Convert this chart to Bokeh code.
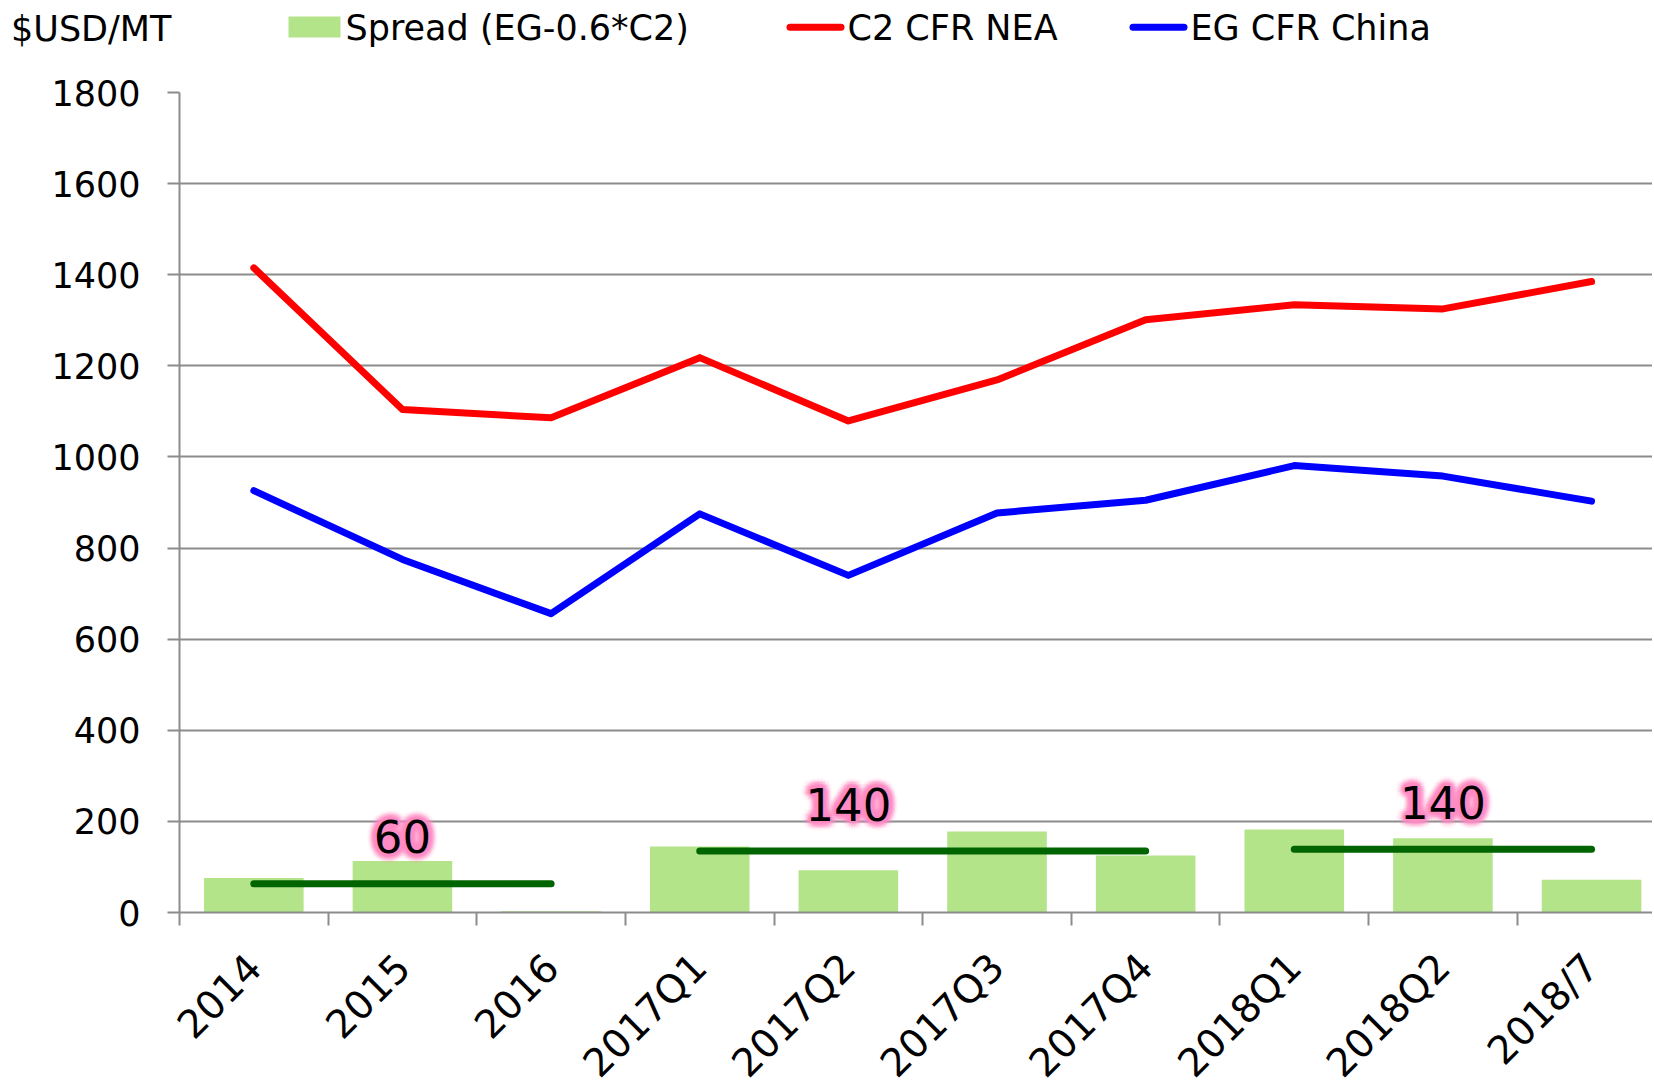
import math
from bokeh.plotting import figure
from bokeh.layouts import column
from bokeh.models import ColumnDataSource, FixedTicker, Range1d
from bokeh.core.properties import value
from bokeh.embed import file_html
from bokeh.resources import INLINE

# ---------------- data ----------------
categories = ["2014", "2015", "2016", "2017Q1", "2017Q2", "2017Q3",
              "2017Q4", "2018Q1", "2018Q2", "2018/7"]
c2_cfr_nea = [1415, 1104, 1086, 1218, 1079, 1169, 1301, 1334, 1325, 1385]
eg_cfr_china = [926, 775, 656, 875, 740, 877, 905, 981, 958, 903]
spread = [76, 113, 3, 145, 93, 178, 125, 182, 163, 72]

avg_start = [0, 3, 7]
avg_end = [2, 6, 9]
avg_value = [63, 135, 139]
avg_label = ["60", "140", "140"]
avg_label_at = [1, 4, 8]

y_ticks = [0, 200, 400, 600, 800, 1000, 1200, 1400, 1600, 1800]
unit_label = "$USD/MT"
series_names = ["Spread (EG-0.6*C2)", "C2 CFR NEA", "EG CFR China"]

# ---------------- layout constants ----------------
FONT = "DejaVu Sans"
GREY = "#8c8c8c"
GREEN = "#B3E48A"
RED = "#FF0000"
BLUE = "#0000FF"
W = 1652
LEFT = 179
X_END = 9.41
HEADER_H = 68
TOP = 24
FRAME_H = 820
BOTTOM = 22
FOOTER_H = 1088 - HEADER_H - TOP - FRAME_H - BOTTOM
idx = list(range(len(categories)))

src = ColumnDataSource(dict(x=idx, cat=categories, c2=c2_cfr_nea,
                            eg=eg_cfr_china, spread=spread))
avg_src = ColumnDataSource(dict(x0=avg_start, x1=avg_end, y=avg_value,
                                label=avg_label, lx=avg_label_at))


def bare(fig):
    fig.grid.visible = False
    fig.outline_line_color = None
    fig.background_fill_color = None
    fig.border_fill_color = "white"
    try:
        fig.frame_align = False
    except Exception:
        pass


# ---------------- header (legend + unit), pixel coordinates ----------------
hdr = figure(width=W, height=HEADER_H, output_backend="svg", toolbar_location=None,
             x_range=Range1d(0, W), y_range=Range1d(0, HEADER_H),
             x_axis_type=None, y_axis_type=None, min_border=0)
bare(hdr)
hdr.quad(left=288, right=340, top=HEADER_H - 16, bottom=HEADER_H - 37,
         fill_color=GREEN, line_color=None)
hdr.segment(x0=789.5, x1=840.5, y0=HEADER_H - 26.7, y1=HEADER_H - 26.7,
            line_color=RED, line_width=7, line_cap="round")
hdr.segment(x0=1132.5, x1=1183.5, y0=HEADER_H - 26.7, y1=HEADER_H - 26.7,
            line_color=BLUE, line_width=7, line_cap="round")
legend_src = ColumnDataSource(dict(name=series_names, lx=[345, 847, 1190]))
hdr.text(x="lx", y=HEADER_H - 27.2, text="name", source=legend_src,
         text_align="left", text_baseline="middle", text_font=value(FONT),
         text_font_size="35px", text_color="black")
hdr.text(x=10.5, y=HEADER_H - 28.8, text=[unit_label], text_align="left",
         text_baseline="middle", text_font=value(FONT), text_font_size="35px",
         text_color="black")

# ---------------- main chart ----------------
p = figure(width=W, height=TOP + FRAME_H + BOTTOM, output_backend="svg",
           toolbar_location=None,
           x_range=Range1d(-0.5, X_END), y_range=Range1d(0, 1800),
           min_border_left=LEFT, min_border_right=0, min_border_top=TOP,
           min_border_bottom=BOTTOM)
p.outline_line_color = None
try:
    p.frame_align = False
except Exception:
    pass

yt = FixedTicker(ticks=y_ticks, minor_ticks=[])
p.yaxis.ticker = yt
p.ygrid.ticker = yt
p.ygrid.grid_line_color = GREY
p.ygrid.grid_line_width = 2
p.xgrid.visible = False
p.yaxis.axis_line_color = GREY
p.yaxis.axis_line_width = 2
p.yaxis.major_tick_line_color = GREY
p.yaxis.major_tick_line_width = 2
p.yaxis.major_tick_out = 12
p.yaxis.major_tick_in = 0
p.yaxis.minor_tick_line_color = None
p.yaxis.major_label_text_font = FONT
p.yaxis.major_label_text_font_size = "35px"
p.yaxis.major_label_text_color = "black"
p.yaxis.major_label_standoff = 27

# x axis: category-boundary ticks here, category labels drawn in the footer
xt = FixedTicker(ticks=[], minor_ticks=[i - 0.5 for i in range(len(categories) + 1)])
p.xaxis.ticker = xt
p.xaxis.axis_line_color = GREY
p.xaxis.axis_line_width = 2
p.xaxis.major_tick_line_color = None
p.xaxis.minor_tick_line_color = GREY
p.xaxis.minor_tick_line_width = 2
p.xaxis.minor_tick_out = 13
p.xaxis.minor_tick_in = 0
p.xaxis.major_label_standoff = 0

p.vbar(x="x", top="spread", bottom=0, width=0.67, source=src,
       fill_color=GREEN, line_color=None)
p.segment(x0="x0", y0="y", x1="x1", y1="y", source=avg_src,
          line_width=7, line_color="#006400", line_cap="round")
p.line(x="x", y="c2", source=src, line_color=RED, line_width=7,
       line_join="round", line_cap="round")
p.line(x="x", y="eg", source=src, line_color=BLUE, line_width=7,
       line_join="round", line_cap="round")

# labels with a soft pink glow
YOFF = -47
for r, a in [(10, 0.05), (8.5, 0.08), (7, 0.12), (5.5, 0.17), (4, 0.24),
             (2.5, 0.35), (1.2, 0.5)]:
    for k in range(16):
        ang = 2 * math.pi * k / 16
        p.text(x="lx", y="y", text="label", source=avg_src,
               x_offset=r * math.cos(ang), y_offset=YOFF + r * math.sin(ang),
               text_align="center", text_baseline="alphabetic",
               text_font=value(FONT), text_font_size="45px",
               text_color="#FF8AC4", text_alpha=a)
p.text(x="lx", y="y", text="label", source=avg_src, y_offset=YOFF,
       text_align="center", text_baseline="alphabetic",
       text_font=value(FONT), text_font_size="45px", text_color="black")

# ---------------- footer (category labels, same x scale) ----------------
scale = (W - LEFT) / (X_END + 0.5)
ftr = figure(width=W, height=FOOTER_H, output_backend="svg", toolbar_location=None,
             x_range=Range1d(-0.5 - LEFT / scale, X_END),
             y_range=Range1d(0, FOOTER_H),
             x_axis_type=None, y_axis_type=None, min_border=0)
bare(ftr)
ftr.text(x="x", y=FOOTER_H - 26, text="cat", source=src, angle=math.pi / 4,
         text_align="right", text_baseline="middle", text_font=value(FONT),
         text_font_size="39px", text_color="black")

layout = column(hdr, p, ftr, spacing=0)
open("out.html", "w").write(file_html(layout, INLINE))
